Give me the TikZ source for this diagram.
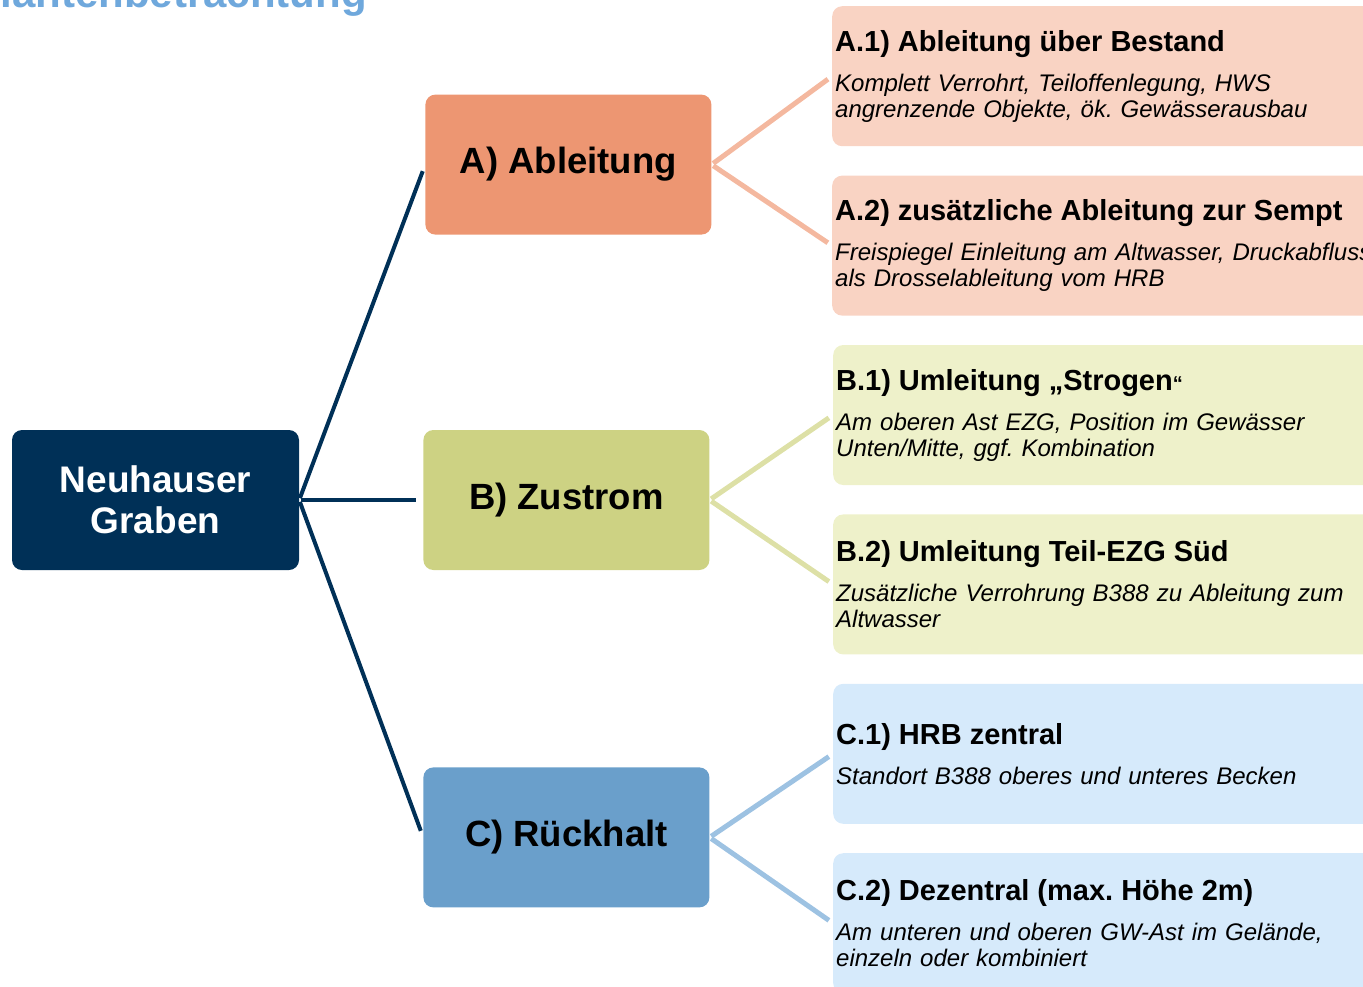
\documentclass[tikz,border=0pt]{standalone}
\usepackage{fontspec}
\setmainfont{Liberation Sans}
\usetikzlibrary{positioning,calc}
\frenchspacing
\definecolor{rootblue}{RGB}{0,48,87}
\definecolor{headblue}{RGB}{111,168,220}
\definecolor{catA}{RGB}{237,150,114}
\definecolor{catB}{RGB}{205,210,131}
\definecolor{catC}{RGB}{106,159,203}
\definecolor{optA}{RGB}{249,211,195}
\definecolor{optB}{RGB}{238,241,202}
\definecolor{optC}{RGB}{214,234,251}
\definecolor{lineA}{RGB}{244,184,159}
\definecolor{lineB}{RGB}{221,224,166}
\definecolor{lineC}{RGB}{157,194,226}

\begin{document}
\begin{tikzpicture}[
    x=1pt,
    y=-1pt,
    node distance=29pt
]

\tikzset{
    root/.style={
        rounded corners=10pt,
        fill=rootblue,
        text=white,
        minimum width=287pt,
        minimum height=140pt,
        align=center,
        font=\fontsize{37}{41}\selectfont\bfseries
    },
    cat/.style={
        rounded corners=10pt,
        minimum width=286pt,
        minimum height=140pt,
        font=\fontsize{36.5}{40}\selectfont\bfseries
    },
    opt/.style={
        rounded corners=10pt,
        minimum height=140pt,
        text width=560pt,
        inner xsep=3pt,
        inner ysep=0pt,
        align=left,
        font=\fontsize{24}{26}\selectfont\itshape
    },
    stem/.style={line width=4pt, rootblue, shorten <=2pt, shorten >=7pt},
    twig/.style={line width=5pt, shorten <=2pt, shorten >=5pt}
}
\newcommand{\opthead}[1]{{\fontsize{29}{32}\selectfont\bfseries\upshape #1}\\[14pt]}

\useasboundingbox (0,0) rectangle (1363,986);
\clip (0,0) rectangle (1363,986);

% heading, cut at the top
\node[anchor=base east, inner sep=0pt, text=headblue,
    font=\fontsize{42}{42}\selectfont\bfseries] (head) at (367,7)
{Variantenbetrachtung};

% root and categories
\node[root] (root) at (155.5,500) {Neuhauser\\Graben};

\node[cat, fill=catB, right=124pt of root] (catB) {B) Zustrom};
\node[cat, fill=catA, above=195pt of catB.north, anchor=south,
    xshift=2pt] (catA) {A) Ableitung};
\node[cat, fill=catC, below=197pt of catB] (catC) {C) Rückhalt};

% options
\node[opt, fill=optA, anchor=north west] (a1) at (832,6)
{\opthead{A.1) Ableitung über Bestand}Komplett Verrohrt, Teiloffenlegung, HWS\\angrenzende Objekte, ök. Gewässerausbau};
\node[opt, fill=optA, below=of a1] (a2)
{\opthead{A.2) zusätzliche Ableitung zur Sempt}Freispiegel Einleitung am Altwasser, Druckabfluss\\als Drosselableitung vom HRB};
\node[opt, fill=optB, below=of a2, xshift=1pt] (b1)
{\opthead{B.1) Umleitung „Strogen{\fontsize{20}{20}\selectfont“}}Am oberen Ast EZG, Position im Gewässer\\Unten/Mitte, ggf. Kombination};
\node[opt, fill=optB, below=of b1] (b2)
{\opthead{B.2) Umleitung Teil-EZG Süd}Zusätzliche Verrohrung B388 zu Ableitung zum\\Altwasser};
\node[opt, fill=optC, below=of b2] (c1)
{\opthead{C.1) HRB zentral}Standort B388 oberes und unteres Becken};
\node[opt, fill=optC, below=of c1] (c2)
{\opthead{C.2) Dezentral (max. Höhe 2m)}Am unteren und oberen GW-Ast im Gelände,\\einzeln oder kombiniert};

% connectors
\draw[stem] (root.east) -- (catA.west);
\draw[stem] (root.east) -- (catB.west);
\draw[stem] (root.east) -- (catC.west);

\draw[twig, lineA] (catA.east) -- (a1.west);
\draw[twig, lineA] (catA.east) -- (a2.west);
\draw[twig, lineB] (catB.east) -- (b1.west);
\draw[twig, lineB] (catB.east) -- (b2.west);
\draw[twig, lineC] (catC.east) -- (c1.west);
\draw[twig, lineC] (catC.east) -- (c2.west);

\end{tikzpicture}
\end{document}
